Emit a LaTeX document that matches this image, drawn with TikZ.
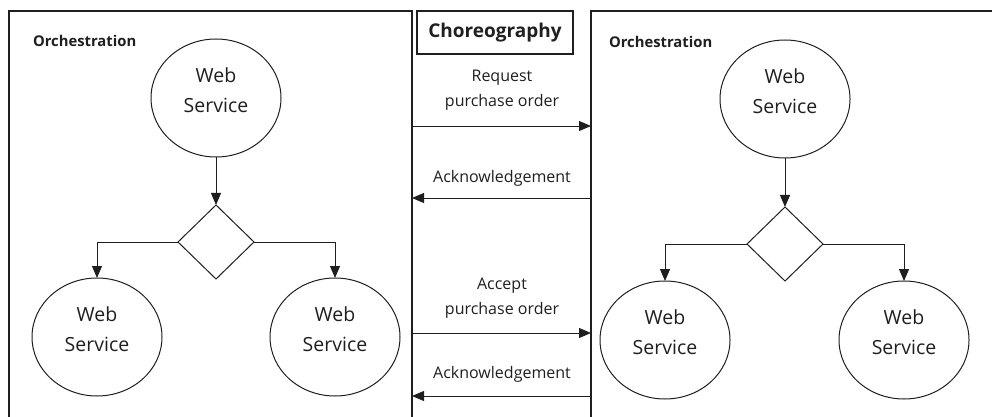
\documentclass[tikz,border=0pt]{standalone}
\usepackage{fontspec}
\setmainfont{Open Sans}
\newcommand*{\wsfont}{\fontsize{19.5}{30}\selectfont}
\newcommand*{\msgfont}{\fontsize{16}{25}\selectfont}
\newcommand*{\headfont}{\fontsize{14.8}{16}\selectfont\bfseries}
\definecolor{ink}{gray}{0.12}
\usetikzlibrary{arrows.meta}
\usetikzlibrary{shapes.geometric}
\tikzstyle{base}=[inner sep=0pt, outer sep=0pt, x=1pt, y=-1pt, line width=1pt, ink]
\tikzstyle{service}=[draw, ellipse, minimum width=130pt, minimum height=118pt, align=center, text depth=16pt, font=\wsfont]
\tikzstyle{choice}=[draw, diamond, minimum width=76pt, minimum height=74pt]
\tikzstyle{flow}=[-{Triangle[length=12pt,width=10pt]}]
\tikzstyle{msg}=[align=center, font=\msgfont]

\begin{document}
\begin{tikzpicture}[base]
    \useasboundingbox (0,0) rectangle (992,417);
    % frames, open at the page edges
    \draw [line width=1.2pt] (9,417) -- (9,11) -- (412,11) -- (412,417);
    \draw [line width=1.2pt] (591,417) -- (591,11) -- (992,11);
    \node [draw, line width=1.2pt, minimum width=156pt, minimum height=43pt, font=\fontsize{19}{20}\selectfont\bfseries] (chor) at (495,32.5) {Choreography};
    \node [anchor=west, font=\headfont] (orch-l) at (33,41) {Orchestration};
    \node [anchor=west, font=\headfont] (orch-r) at (609,42) {Orchestration};

    % left orchestration
    \node [service] (ws-l) at (216,98) {Web\\Service};
    \node [choice] (dec-l) at (216,242) {};
    \node [service] (ws-ll) at (97,337) {Web\\Service};
    \node [service] (ws-lr) at (335,337) {Web\\Service};
    \draw [flow] (ws-l) -- (dec-l);
    \draw [flow] (dec-l.west) -| (ws-ll.north);
    \draw [flow] (dec-l.east) -| (ws-lr.north);

    % right orchestration
    \node [service] (ws-r) at (785,99) {Web\\Service};
    \node [choice] (dec-r) at (785,244) {};
    \node [service] (ws-rl) at (665,340) {Web\\Service};
    \node [service] (ws-rr) at (904,340) {Web\\Service};
    \draw [flow] (ws-r) -- (dec-r);
    \draw [flow] (dec-r.west) -| (ws-rl.north);
    \draw [flow] (dec-r.east) -| (ws-rr.north);

    % choreography messages
    \coordinate (req-a) at (412,126);
    \coordinate (req-b) at (591,126);
    \coordinate (ack-a) at (412,198);
    \coordinate (ack-b) at (591,198);
    \coordinate (acc-a) at (412,333);
    \coordinate (acc-b) at (591,333);
    \coordinate (ack2-a) at (412,396);
    \coordinate (ack2-b) at (591,396);
    \node [msg] (req) at (502,90) {Request\\purchase order};
    \node [msg] (ack) at (502,178) {Acknowledgement};
    \node [msg] (acc) at (502,298) {Accept\\purchase order};
    \node [msg] (ack2) at (502,374) {Acknowledgement};
    \draw [flow] (req-a) -- (req-b);
    \draw [flow] (ack-b) -- (ack-a);
    \draw [flow] (acc-a) -- (acc-b);
    \draw [flow] (ack2-b) -- (ack2-a);
\end{tikzpicture}
\end{document}
